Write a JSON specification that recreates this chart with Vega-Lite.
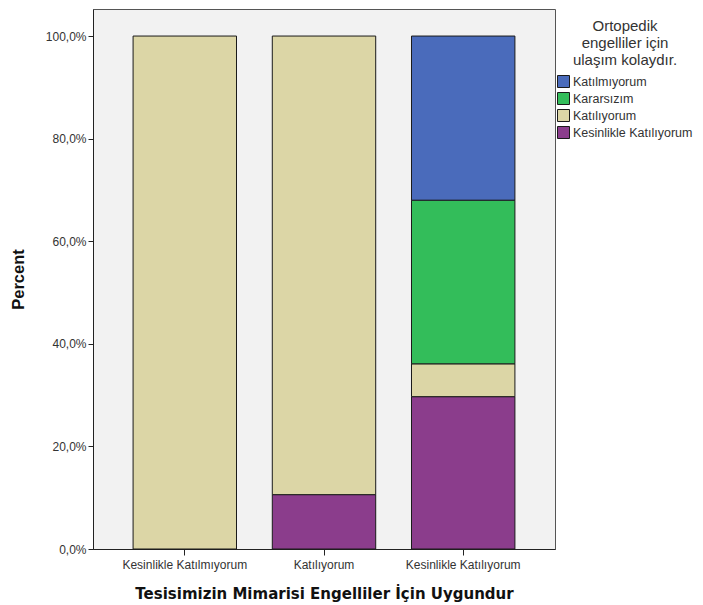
{
  "$schema": "https://vega.github.io/schema/vega-lite/v6.json",
  "width": 462,
  "height": 540,
  "autosize": {"type": "none"},
  "padding": {"left": 93, "top": 9, "right": 148, "bottom": 56},
  "background": "white",
  "data": {
    "values": [
      {"grup": "Kesinlikle Katılmıyorum", "yanit": "Katılıyorum", "yuzde": 100.0},
      {"grup": "Katılıyorum", "yanit": "Kesinlikle Katılıyorum", "yuzde": 10.6},
      {"grup": "Katılıyorum", "yanit": "Katılıyorum", "yuzde": 89.4},
      {"grup": "Kesinlikle Katılıyorum", "yanit": "Kesinlikle Katılıyorum", "yuzde": 29.7},
      {"grup": "Kesinlikle Katılıyorum", "yanit": "Katılıyorum", "yuzde": 6.4},
      {"grup": "Kesinlikle Katılıyorum", "yanit": "Kararsızım", "yuzde": 31.9},
      {"grup": "Kesinlikle Katılıyorum", "yanit": "Katılmıyorum", "yuzde": 32.0}
    ]
  },
  "transform": [
    {"calculate": "indexof(['Kesinlikle Katılıyorum','Katılıyorum','Kararsızım','Katılmıyorum'], datum.yanit)", "as": "sira"}
  ],
  "mark": {"type": "bar", "stroke": "#1a1a1a", "strokeWidth": 1},
  "encoding": {
    "x": {
      "field": "grup",
      "type": "nominal",
      "sort": ["Kesinlikle Katılmıyorum", "Katılıyorum", "Kesinlikle Katılıyorum"],
      "scale": {"paddingInner": 0.257, "paddingOuter": 0.288},
      "axis": {
        "title": "Tesisimizin Mimarisi Engelliler İçin Uygundur",
        "labelAngle": 0,
        "labelFontSize": 12,
        "labelColor": "#333333",
        "labelPadding": 4,
        "tickSize": 6,
        "tickColor": "#222222",
        "domainColor": "#222222",
        "titleFont": "DejaVu Sans",
        "titleFontSize": 15,
        "titleFontWeight": "bold",
        "titleColor": "#111111",
        "titlePadding": 16
      }
    },
    "y": {
      "field": "yuzde",
      "type": "quantitative",
      "stack": "zero",
      "scale": {"domain": [0, 105.27], "nice": false},
      "axis": {
        "title": "Percent",
        "values": [0, 20, 40, 60, 80, 100],
        "labelExpr": "replace(format(datum.value, '.1f'), '.', ',') + '%'",
        "grid": false,
        "labelFontSize": 12,
        "labelColor": "#333333",
        "labelPadding": 2,
        "tickSize": 5,
        "tickColor": "#222222",
        "domainColor": "#222222",
        "titleFontSize": 16.5,
        "titleFontWeight": "bold",
        "titleColor": "#111111",
        "titlePadding": 19
      }
    },
    "color": {
      "field": "yanit",
      "type": "nominal",
      "scale": {
        "domain": ["Katılmıyorum", "Kararsızım", "Katılıyorum", "Kesinlikle Katılıyorum"],
        "range": ["#4a6bbb", "#33bd5a", "#dcd6a6", "#8b3d8c"]
      },
      "legend": {
        "orient": "none",
        "legendX": 464,
        "legendY": 10,
        "title": ["Ortopedik", "engelliler için", "ulaşım kolaydır."],
        "titleFontSize": 15,
        "titleFontWeight": "normal",
        "titleColor": "#333333",
        "titleAnchor": "middle",
        "titleAlign": "center",
        "titleLineHeight": 17,
        "titlePadding": 7,
        "labelFontSize": 12.5,
        "labelColor": "#333333",
        "symbolType": "square",
        "symbolSize": 144,
        "symbolStrokeColor": "#1a1a1a",
        "symbolStrokeWidth": 1,
        "symbolOpacity": 1,
        "rowPadding": 0,
        "labelOffset": 3,
        "padding": 0
      }
    },
    "order": {"field": "sira", "type": "quantitative"}
  },
  "config": {
    "font": "Liberation Sans",
    "view": {"fill": "#f2f2f2", "stroke": "#555555", "strokeWidth": 1}
  }
}
